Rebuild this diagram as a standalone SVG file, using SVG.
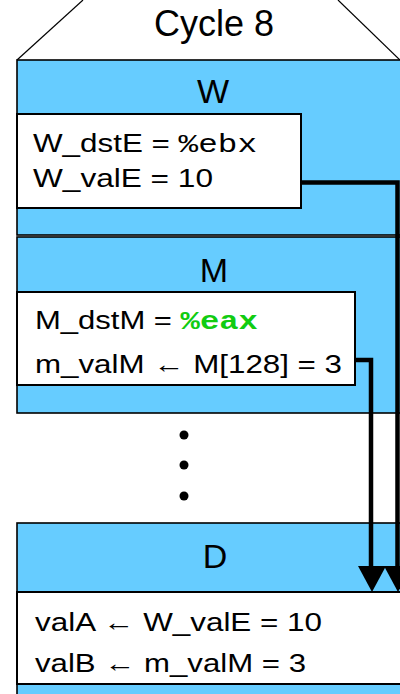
<svg xmlns="http://www.w3.org/2000/svg" width="400" height="694" viewBox="0 0 400 694">
<style>
.stage{fill:#66ccff;stroke:#000;stroke-width:1.6}
.box{fill:#fff;stroke:#000;stroke-width:2}
.lbl{font-family:"Liberation Sans",Arial,sans-serif;font-size:34px;fill:#000;text-anchor:middle}
.t{font-family:"Liberation Sans",Arial,sans-serif;font-size:25px;fill:#000}
.mono{font-family:"Liberation Mono","Courier New",monospace;font-size:26px}
.grn{fill:#11cc11;font-weight:bold}
.wire{fill:none;stroke:#000;stroke-width:4.5;stroke-linejoin:miter}
</style>
<rect width="400" height="694" fill="#fff"/>
<g id="title">
<polyline points="17,60 83,0" fill="none" stroke="#000" stroke-width="1.2"/>
<polyline points="338,0 400,60" fill="none" stroke="#000" stroke-width="1.2"/>
<text x="214" y="36" class="lbl" style="font-size:36px">Cycle 8</text>
</g>
<g id="W">
<rect class="stage" x="17" y="60" width="390" height="175"/>
<text class="lbl" x="213" y="103">W</text>
<rect class="box" x="17" y="114" width="284" height="94"/>
<text class="t" x="33" y="152" textLength="224" lengthAdjust="spacingAndGlyphs">W_dstE = <tspan class="mono">%ebx</tspan></text>
<text class="t" x="33" y="187" textLength="180" lengthAdjust="spacingAndGlyphs">W_valE = 10</text>
</g>
<g id="M">
<rect class="stage" x="17" y="237" width="390" height="176"/>
<text class="lbl" x="214" y="282">M</text>
<rect class="box" x="17" y="292" width="338" height="93"/>
<text class="t" x="35" y="329" textLength="223" lengthAdjust="spacingAndGlyphs">M_dstM = <tspan class="mono grn">%eax</tspan></text>
<text class="t" x="35" y="373" textLength="307" lengthAdjust="spacingAndGlyphs">m_valM ← M[128] = 3</text>
</g>
<g id="dots">
<circle cx="184" cy="435" r="4.5"/>
<circle cx="184" cy="465" r="4.5"/>
<circle cx="184" cy="496" r="4.5"/>
</g>
<g id="D">
<rect class="stage" x="17" y="523" width="390" height="190"/>
<text class="lbl" x="215" y="568">D</text>
<rect class="box" x="17" y="592" width="390" height="92"/>
<text class="t" x="35" y="631" textLength="287" lengthAdjust="spacingAndGlyphs">valA ← W_valE = 10</text>
<text class="t" x="35" y="672" textLength="271" lengthAdjust="spacingAndGlyphs">valB ← m_valM = 3</text>
</g>
<g id="connectors">
<polyline class="wire" points="301,182.5 397.5,182.5 397.5,568"/>
<polyline class="wire" points="355,360 371,360 371,568"/>
<polygon points="358,566 386,566 372,592" fill="#000"/>
<polygon points="384,566 412,566 398,592" fill="#000"/>
</g>
</svg>
